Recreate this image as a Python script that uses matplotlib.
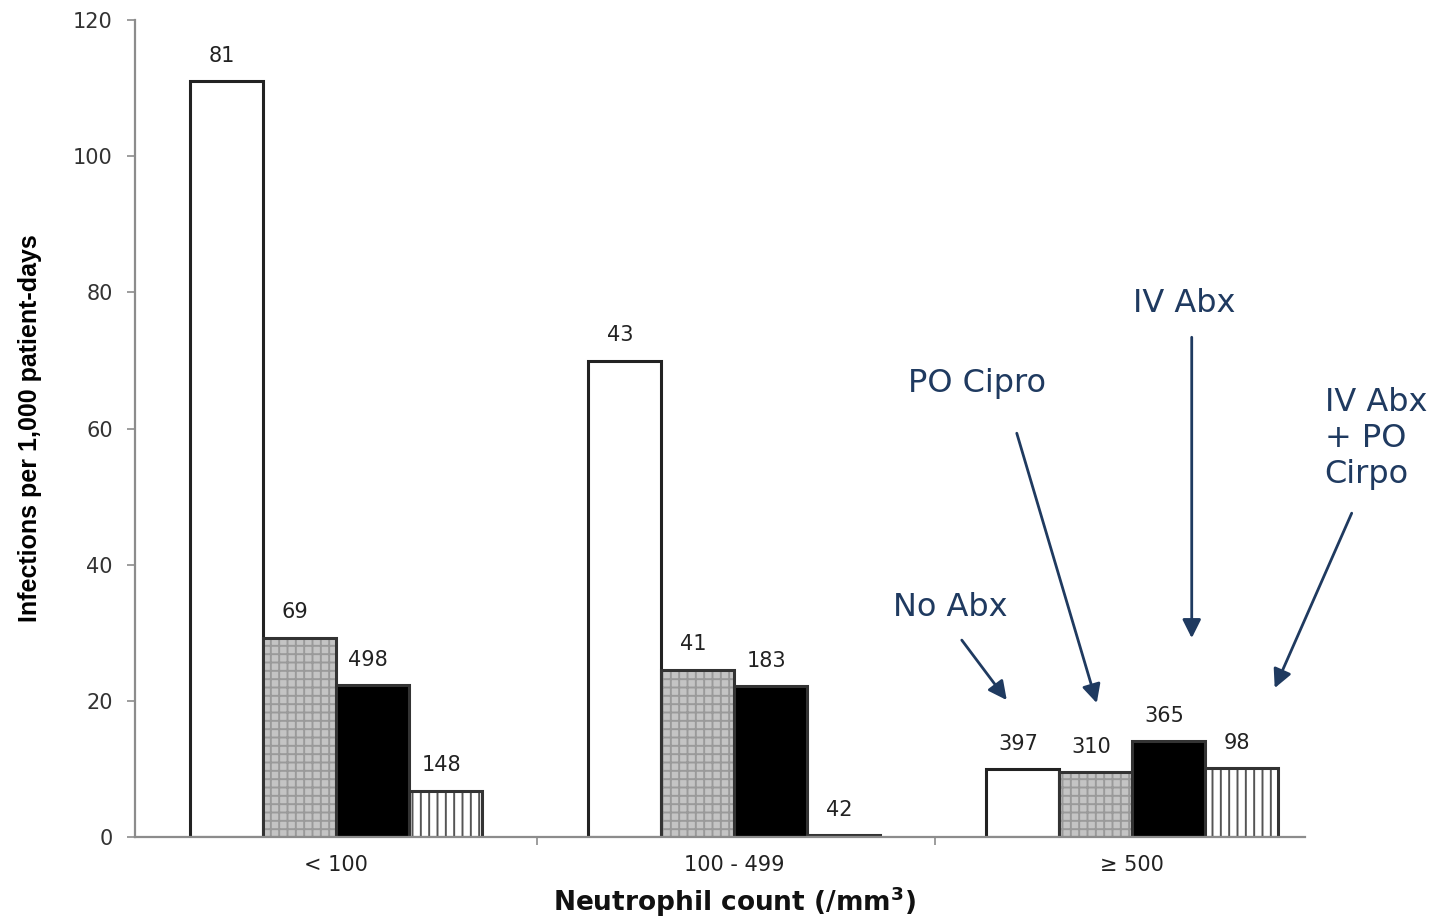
import matplotlib
matplotlib.use("Agg")
import matplotlib.pyplot as plt
import numpy as np

# data
groups = ["< 100", "100 - 499", "\u2265 500"]
no_abx = [111.0, 70.0, 10.0]
po_cipro = [29.3, 24.6, 9.5]
iv_abx = [22.3, 22.2, 14.1]
iv_po = [6.8, 0.3, 10.1]
n_no_abx = [81, 43, 397]
n_po_cipro = [69, 41, 310]
n_iv_abx = [498, 183, 365]
n_iv_po = [148, 42, 98]

navy = "#1f3a60"
axis_gray = "#8c8c8c"
plt.rcParams["hatch.linewidth"] = 1.4

fig = plt.figure(figsize=(14.45, 9.19), dpi=100)
ax = fig.add_axes([0.0934, 0.0892, 0.8096, 0.8888])

x = np.arange(len(groups))
w = 0.1834

series = [no_abx, po_cipro, iv_abx, iv_po]
counts = [n_no_abx, n_po_cipro, n_iv_abx, n_iv_po]

for i, (vals, ns) in enumerate(zip(series, counts)):
    pos = x + (i - 1.5) * w
    if i == 0:
        ax.bar(pos, vals, w, color="white", edgecolor="#222222", lw=2.2)
    elif i == 1:
        ax.bar(pos, vals, w, color="#c4c4c4", edgecolor="#9a9a9a", hatch="++", lw=0)
        ax.bar(pos, vals, w, fill=False, edgecolor="#333333", lw=2.2)
    elif i == 2:
        ax.bar(pos, vals, w, color="black", edgecolor="#333333", lw=2.2)
    else:
        ax.bar(pos, vals, w, color="white", edgecolor="#555555", hatch="||", lw=0)
        ax.bar(pos, vals, w, fill=False, edgecolor="#333333", lw=2.2)
    for p, v, n in zip(pos, vals, ns):
        ax.annotate(str(n), (p, v), xytext=(-3, 11), textcoords="offset points",
                    ha="center", va="bottom", fontsize=15, color="#222222")

ax.set_xlim(-0.505, 2.435)
ax.set_ylim(0, 120)
ax.set_yticks(np.arange(0, 121, 20))
ax.tick_params(axis="y", length=6, width=1.2, color=axis_gray, labelsize=15,
               labelcolor="#333333", pad=10)
ax.set_xticks(x)
ax.set_xticklabels(groups)
ax.set_xticks([0.505, 1.505], minor=True)
ax.tick_params(axis="x", which="major", length=0, labelsize=15,
               labelcolor="#222222", pad=13)
ax.tick_params(axis="x", which="minor", length=6, width=1.2, color=axis_gray)

for s in ["top", "right"]:
    ax.spines[s].set_visible(False)
for s in ["left", "bottom"]:
    ax.spines[s].set_color(axis_gray)
    ax.spines[s].set_linewidth(1.6)

ax.set_ylabel("Infections per 1,000 patient-days", fontsize=18, fontweight="bold",
              family=["Liberation Sans", "DejaVu Sans"], va="center")
ax.yaxis.set_label_coords(-0.0897, 0.5)
ax.set_xlabel("Neutrophil count (/mm$^{\\mathbf{3}}$)", fontsize=19,
              fontweight="bold", color="#111111")
ax.xaxis.set_label_coords(0.5128, -0.058)

# annotations
def to_data(px, py):
    return ((px - 336) / 398.0, (837 - py) / 6.81)

txt = dict(fontsize=23, color=navy, va="center", ha="left", clip_on=False)
ax.text(*to_data(893, 607), "No Abx", **txt)
ax.text(*to_data(908, 383), "PO Cipro", **txt)
ax.text(*to_data(1133, 303), "IV Abx", **txt)
ax.text(*to_data(1325, 438), "IV Abx\n+ PO\nCirpo", linespacing=1.2, **txt)

arrows = [((962, 640), (1007, 700)),
          ((1017, 433), (1097, 703)),
          ((1192, 337), (1192, 638)),
          ((1352, 513), (1275, 688))]
for start, end in arrows:
    ax.annotate("", xy=to_data(*end), xytext=to_data(*start),
                arrowprops=dict(arrowstyle="-|>", mutation_scale=28, lw=2,
                                color=navy, shrinkA=0, shrinkB=0),
                annotation_clip=False)

fig.savefig("out.png", dpi=100)
plt.close()
